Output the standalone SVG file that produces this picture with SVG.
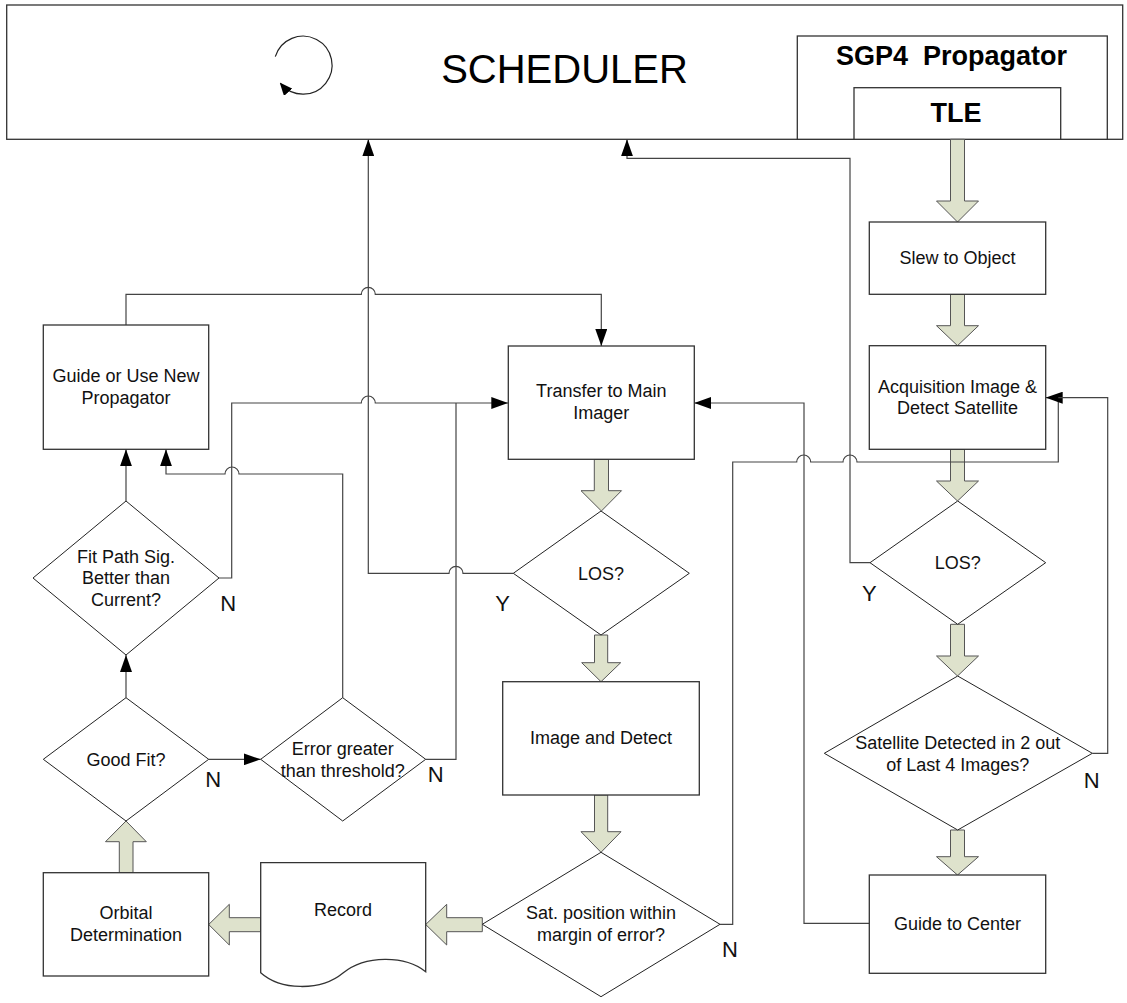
<svg xmlns="http://www.w3.org/2000/svg" width="1127" height="1003" viewBox="0 0 1127 1003">
<defs>
<marker id="ah" markerUnits="userSpaceOnUse" viewBox="0 0 17 12" markerWidth="17" markerHeight="12" refX="17" refY="6" orient="auto">
<path d="M0,0 L17,6 L0,12 z" fill="#000"/>
</marker>
<marker id="ahs" markerUnits="userSpaceOnUse" viewBox="0 0 13 11" markerWidth="13" markerHeight="11" refX="11" refY="5.5" orient="auto">
<path d="M0,0 L13,5.5 L0,11 z" fill="#000"/>
</marker>
</defs>
<style>
.box{fill:#fff;stroke:#333;stroke-width:1.3}
.dia{fill:#fff;stroke:#222;stroke-width:1}
.ln{fill:none;stroke:#444;stroke-width:1.2}
.blk{fill:#dee2cc;stroke:#555;stroke-width:1}
.t{font-family:"Liberation Sans",Arial,sans-serif;font-size:18px;fill:#111;text-anchor:middle}
.yn{font-family:"Liberation Sans",Arial,sans-serif;font-size:22px;fill:#111;text-anchor:middle}
.b{font-family:"Liberation Sans",Arial,sans-serif;font-weight:bold;font-size:27px;fill:#000;text-anchor:middle}
</style>
<rect width="1127" height="1003" fill="#fff"/>

<g id="scheduler">
<rect class="box" x="6.7" y="5" width="1116" height="134.3"/>
<path d="M275.3,56.7 A29,29 0 1 1 281,84" fill="none" stroke="#222" stroke-width="1.2" marker-end="url(#ahs)"/>
<text x="564.5" y="83.3" font-family="'Liberation Sans',Arial,sans-serif" font-size="40" fill="#000" text-anchor="middle">SCHEDULER</text>
</g>
<g id="sgp4">
<rect class="box" x="797.3" y="36" width="310" height="103.3"/>
<text class="b" x="951.5" y="65" xml:space="preserve">SGP4  Propagator</text>
</g>
<g id="tle">
<rect class="box" x="854" y="87.7" width="206.7" height="51.6"/>
<text class="b" x="956" y="121.7">TLE</text>
</g>

<g id="connectors">
<path class="blk" d="M950.5,139.3 H964.5 V201 H978.5 L957.5,222 L936.5,201 H950.5 Z"/>
<path class="blk" d="M950.5,294.3 H964.5 V325.7 H978.5 L957.5,345.7 L936.5,325.7 H950.5 Z"/>
<path class="blk" d="M950.5,449.3 H964.5 V481 H978.5 L957.5,501 L936.5,481 H950.5 Z"/>
<path class="blk" d="M950.5,624.3 H964.5 V656 H978.5 L957.5,676 L936.5,656 H950.5 Z"/>
<path class="blk" d="M950.5,830 H964.5 V856.7 H978.5 L957.5,875 L936.5,856.7 H950.5 Z"/>
<path class="blk" d="M594.3,459.3 H608.5 V490.7 H621.5 L601.4,511 L581,490.7 H594.3 Z"/>
<path class="blk" d="M594.5,635 H607.7 V662.7 H620.7 L601,681.7 L581.7,662.7 H594.5 Z"/>
<path class="blk" d="M594.5,795 H607.7 V831.7 H621 L601,852.3 L581,831.7 H594.5 Z"/>
<path class="blk" d="M119.3,872.7 H133 V841.7 H146.3 L126,821 L105.5,841.7 H119.3 Z"/>
<path class="blk" d="M482.3,917.7 V931.7 H446.7 V945 L425.7,924.5 L446.7,904.3 V917.7 Z"/>
<path class="blk" d="M260.7,917.7 V931.7 H229.3 V945 L208.7,924.5 L229.3,904.3 V917.7 Z"/>
<path class="ln" d="M126,325 V294.3 H361.3 A7,7 0 0 1 375.3,294.3 H601.3 V346" marker-end="url(#ah)"/>
<path class="ln" d="M219,578 H231.7 V403 H361.3 A7,7 0 0 1 375.3,403 H508.3" marker-end="url(#ah)"/>
<path class="ln" d="M425.7,759.3 H456 V403"/>
<path class="ln" d="M342.7,697.7 V474 H239 A7,7 0 0 0 225,474 H166 V449.3" marker-end="url(#ah)"/>
<path class="ln" d="M126,697.7 V655" marker-end="url(#ah)"/>
<path class="ln" d="M126,501 V449.3" marker-end="url(#ah)"/>
<path class="ln" d="M208.7,759.3 H260.7" marker-end="url(#ah)"/>
<path class="ln" d="M513.3,573.3 H463 A7,7 0 0 0 449,573.3 H368.3 V139.3" marker-end="url(#ah)"/>
<path class="ln" d="M870,562.7 H850 V158.3 H627 V139.3" marker-end="url(#ah)"/>
<path class="ln" d="M720,924.3 H732.7 V462 H796.7 A7,7 0 0 1 810.7,462 H843 A7,7 0 0 1 857,462 H1058.3 V397.7 H1045.7" marker-end="url(#ah)"/>
<path class="ln" d="M1092.3,753.3 H1107.7 V397.7 H1058.3"/>
<path class="ln" d="M869.3,923.3 H804 V403 H694.3" marker-end="url(#ah)"/>
</g>

<g id="guide_new">
<rect class="box" x="43.3" y="325" width="165.4" height="124.3"/>
<text class="t" x="126" y="382.3">Guide or Use New</text>
<text class="t" x="126" y="404">Propagator</text>
</g>
<g id="transfer">
<rect class="box" x="508.3" y="346" width="186" height="113.3"/>
<text class="t" x="601.3" y="397">Transfer to Main</text>
<text class="t" x="601.3" y="419">Imager</text>
</g>
<g id="slew">
<rect class="box" x="869.3" y="222" width="176.4" height="72.3"/>
<text class="t" x="957.5" y="264">Slew to Object</text>
</g>
<g id="acq">
<rect class="box" x="869.3" y="345.7" width="176.4" height="103.6"/>
<text class="t" x="957.5" y="392.5">Acquisition Image &amp;</text>
<text class="t" x="957.5" y="414">Detect Satellite</text>
</g>
<g id="los1">
<path class="dia" d="M601,511 L689.3,573.3 L601,635 L513.3,573.3 Z"/>
<text class="t" x="601" y="580">LOS?</text>
</g>
<g id="los2">
<path class="dia" d="M957.7,501 L1045.7,562.7 L957.7,624.3 L870,562.7 Z"/>
<text class="t" x="957.7" y="569">LOS?</text>
</g>
<g id="fitpath">
<path class="dia" d="M126,501 L219,578 L126,655 L33,578 Z"/>
<text class="t" x="126" y="562.5">Fit Path Sig.</text>
<text class="t" x="126" y="584">Better than</text>
<text class="t" x="126" y="606">Current?</text>
</g>
<g id="goodfit">
<path class="dia" d="M126,697.7 L208.7,759.3 L126,821 L43.3,759.3 Z"/>
<text class="t" x="126" y="766">Good Fit?</text>
</g>
<g id="error">
<path class="dia" d="M342.7,697.7 L425.7,759.3 L342.7,821 L260.7,759.3 Z"/>
<text class="t" x="342.7" y="754.5">Error greater</text>
<text class="t" x="342.7" y="776.5">than threshold?</text>
</g>
<g id="image">
<rect class="box" x="502.7" y="681.7" width="196.6" height="113.3"/>
<text class="t" x="601" y="744">Image and Detect</text>
</g>
<g id="satpos">
<path class="dia" d="M601,852.3 L720,924.3 L601,996.7 L482.3,924.3 Z"/>
<text class="t" x="601" y="919">Sat. position within</text>
<text class="t" x="601" y="941">margin of error?</text>
</g>
<g id="satdet">
<path class="dia" d="M957.7,676 L1092.3,753.3 L957.7,830 L824.3,753.3 Z"/>
<text class="t" x="957.7" y="749">Satellite Detected in 2 out</text>
<text class="t" x="957.7" y="770.5">of Last 4 Images?</text>
</g>
<g id="guidecenter">
<rect class="box" x="869.3" y="875" width="176.4" height="98.3"/>
<text class="t" x="957.5" y="930">Guide to Center</text>
</g>
<g id="orbital">
<rect class="box" x="43.3" y="872.7" width="165.4" height="103.3"/>
<text class="t" x="126" y="919">Orbital</text>
<text class="t" x="126" y="941">Determination</text>
</g>
<g id="record">
<path class="box" d="M260.7,862.7 H425.7 V971.7 C405,955 365,955 343,973 C320,992 280,990 260.7,972.7 Z"/>
<text class="t" x="343" y="915.5">Record</text>
</g>

<g id="labels">
<text class="yn" x="228.3" y="610.5">N</text>
<text class="yn" x="502.7" y="610.5">Y</text>
<text class="yn" x="869.3" y="601">Y</text>
<text class="yn" x="213.3" y="787">N</text>
<text class="yn" x="435.7" y="782">N</text>
<text class="yn" x="730" y="957">N</text>
<text class="yn" x="1091.7" y="788">N</text>
</g>
</svg>
